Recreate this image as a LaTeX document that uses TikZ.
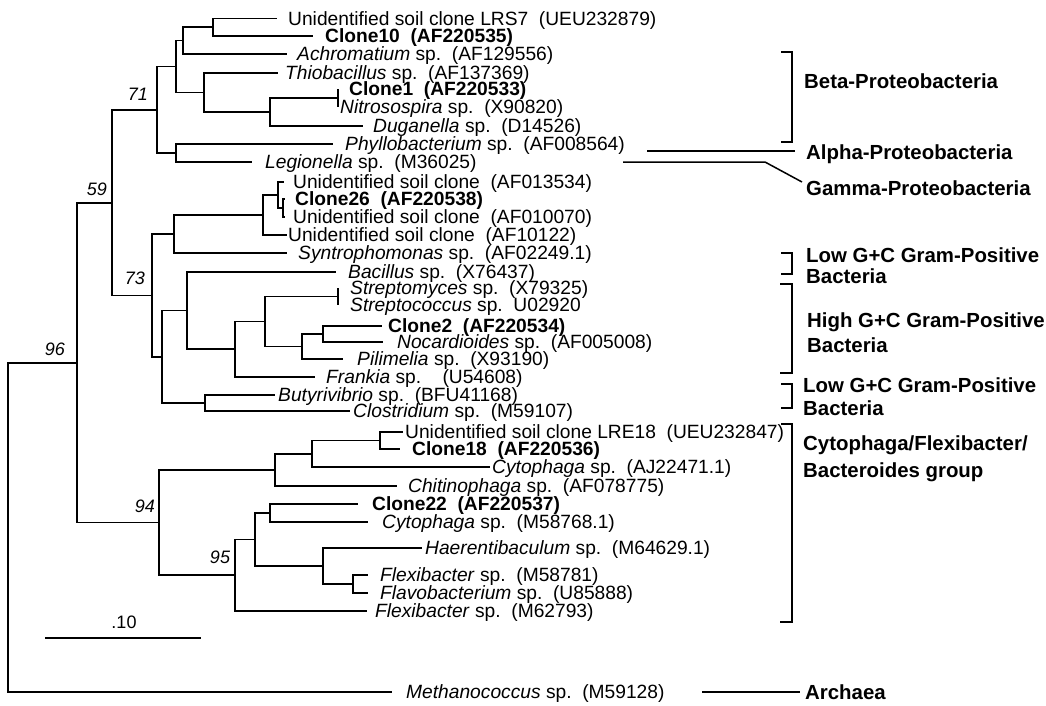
\documentclass[tikz,border=0pt]{standalone}
\usepackage{fontspec}
\setmainfont{Liberation Sans}
\newcommand\gap{\hspace{0.556em}}
\tikzset{
  tree/.style={line width=1.5pt, line join=miter},
  leaf/.style={anchor=base west, inner sep=0pt, yshift=-6.9pt, font=\fontsize{19.2}{20}\selectfont},
  bleaf/.style={leaf, font=\fontsize{19.2}{20}\selectfont\bfseries},
  grp/.style={anchor=base west, inner sep=0pt, yshift=-7.3pt, font=\fontsize{20.4}{21}\selectfont\bfseries},
  boot/.style={inner sep=0pt, font=\fontsize{18}{18}\selectfont\itshape},
}
\begin{document}
\begin{tikzpicture}[x=1pt,y=-1pt]
\useasboundingbox (0,0) rectangle (1046,705);
% internal nodes
\coordinate (A) at (213,27);
\coordinate (B) at (183,40.5);
\coordinate (F) at (338,98);
\coordinate (E) at (270,112);
\coordinate (D) at (204,92.5);
\coordinate (C) at (176,66.5);
\coordinate (H) at (176,153);
\coordinate (G) at (157,110);
\coordinate (O) at (283,208);
\coordinate (N) at (278,195);
\coordinate (M) at (263,215);
\coordinate (L) at (174,234);
\coordinate (Q) at (338,296.5);
\coordinate (T) at (323,334);
\coordinate (S) at (302,346.5);
\coordinate (R) at (265,321.5);
\coordinate (U) at (235,349);
\coordinate (P) at (187,310.5);
\coordinate (W) at (205,403);
\coordinate (V) at (162,357);
\coordinate (K) at (152,295.5);
\coordinate (I) at (112,203);
\coordinate (AB) at (380,440.5);
\coordinate (AA) at (312,453.8);
\coordinate (Z) at (275,470);
\coordinate (AE) at (270,513);
\coordinate (AG) at (353,584);
\coordinate (AF) at (323,566);
\coordinate (AD) at (255,539.5);
\coordinate (AC) at (235,575);
\coordinate (Y) at (159,522.5);
\coordinate (X) at (77,363);
\coordinate (RT) at (8,527.5);
% leaf ends
\coordinate (e1) at (277,18.5);
\coordinate (e2) at (313,36);
\coordinate (e3) at (287,54);
\coordinate (e4) at (278,73);
\coordinate (e5) at (338,89);
\coordinate (e6) at (338,107);
\coordinate (e7) at (363,126);
\coordinate (e8) at (333,144);
\coordinate (e9) at (252,162);
\coordinate (e10) at (284,182);
\coordinate (e11) at (285,199);
\coordinate (e12) at (285,217);
\coordinate (e13) at (287,235);
\coordinate (e14) at (287,253);
\coordinate (e15) at (336,272);
\coordinate (e16) at (338,288);
\coordinate (e17) at (338,305);
\coordinate (e18) at (382,326);
\coordinate (e19) at (383,342);
\coordinate (e20) at (343,359);
\coordinate (e21) at (315,377);
\coordinate (e22) at (275,395);
\coordinate (e23) at (350,411);
\coordinate (e24) at (403,432);
\coordinate (e25) at (400,449);
\coordinate (e26) at (490,467);
\coordinate (e27) at (397,486);
\coordinate (e28) at (358,504);
\coordinate (e29) at (368,522);
\coordinate (e30) at (422,548);
\coordinate (e31) at (368,575);
\coordinate (e32) at (368,593);
\coordinate (e33) at (367,611);
\coordinate (e34) at (392,692);
% tree
\draw[tree] (A) |- (e1) (A) |- (e2) (B) |- (A) (B) |- (e3)
  (C) |- (B) (C) |- (D) (D) |- (e4) (D) |- (E) (E) |- (F) (E) |- (e7)
  (F) |- (e5) (F) |- (e6) (G) |- (C) (G) |- (H) (H) |- (e8) (H) |- (e9)
  (I) |- (G) (I) |- (K) (K) |- (L) (K) |- (V) (L) |- (M) (L) |- (e14)
  (M) |- (N) (M) |- (e13) (N) |- (e10) (N) |- (O) (O) |- (e11) (O) |- (e12)
  (V) |- (P) (V) |- (W) (P) |- (e15) (P) |- (U) (U) |- (R) (U) |- (e21)
  (R) |- (Q) (R) |- (S) (Q) |- (e16) (Q) |- (e17) (S) |- (T) (S) |- (e20)
  (T) |- (e18) (T) |- (e19) (W) |- (e22) (W) |- (e23)
  (X) |- (I) (X) |- (Y) (Y) |- (Z) (Y) |- (AC) (Z) |- (AA) (Z) |- (e27)
  (AA) |- (AB) (AA) |- (e26) (AB) |- (e24) (AB) |- (e25)
  (AC) |- (AD) (AC) |- (e33) (AD) |- (AE) (AD) |- (AF)
  (AE) |- (e28) (AE) |- (e29) (AF) |- (e30) (AF) |- (AG)
  (AG) |- (e31) (AG) |- (e32) (RT) |- (X) (RT) |- (e34);
% leaf labels
\node[leaf] (l1) at (288,18.5) {Unidentified soil clone LRS7\gap(UEU232879)};
\node[bleaf] (l2) at (325,36) {Clone10\gap(AF220535)};
\node[leaf] (l3) at (297,54) {\textit{Achromatium} sp.\gap(AF129556)};
\node[leaf] (l4) at (285,73) {\textit{Thiobacillus} sp.\gap(AF137369)};
\node[bleaf] (l5) at (349,89) {Clone1\gap(AF220533)};
\node[leaf] (l6) at (340,107) {\textit{Nitrosospira} sp.\gap(X90820)};
\node[leaf] (l7) at (373,126) {\textit{Duganella} sp.\gap(D14526)};
\node[leaf] (l8) at (345,144) {\textit{Phyllobacterium} sp.\gap(AF008564)};
\node[leaf] (l9) at (265,162) {\textit{Legionella} sp.\gap(M36025)};
\node[leaf] (l10) at (293,182) {Unidentified soil clone\gap(AF013534)};
\node[bleaf] (l11) at (295,199) {Clone26\gap(AF220538)};
\node[leaf] (l12) at (293,217) {Unidentified soil clone\gap(AF010070)};
\node[leaf] (l13) at (288,235) {Unidentified soil clone\gap(AF10122)};
\node[leaf] (l14) at (298,253) {\textit{Syntrophomonas} sp.\gap(AF02249.1)};
\node[leaf] (l15) at (348,272) {\textit{Bacillus} sp.\gap(X76437)};
\node[leaf] (l16) at (350,288) {\textit{Streptomyces} sp.\gap(X79325)};
\node[leaf] (l17) at (350,305) {\textit{Streptococcus} sp.\gap U02920};
\node[bleaf] (l18) at (388,326) {Clone2\gap(AF220534)};
\node[leaf] (l19) at (397,342) {\textit{Nocardioides} sp.\gap(AF005008)};
\node[leaf] (l20) at (357,359) {\textit{Pilimelia} sp.\gap(X93190)};
\node[leaf] (l21) at (326,377) {\textit{Frankia} sp.\gap\gap(U54608)};
\node[leaf] (l22) at (278,395) {\textit{Butyrivibrio} sp.\gap(BFU41168)};
\node[leaf] (l23) at (353,411) {\textit{Clostridium} sp.\gap(M59107)};
\node[leaf] (l24) at (405,432) {Unidentified soil clone LRE18\gap(UEU232847)};
\node[bleaf] (l25) at (412,449) {Clone18\gap(AF220536)};
\node[leaf] (l26) at (492,467) {\textit{Cytophaga} sp.\gap(AJ22471.1)};
\node[leaf] (l27) at (408,486) {\textit{Chitinophaga} sp.\gap(AF078775)};
\node[bleaf] (l28) at (372,504) {Clone22\gap(AF220537)};
\node[leaf] (l29) at (382,522) {\textit{Cytophaga} sp.\gap(M58768.1)};
\node[leaf] (l30) at (425,548) {\textit{Haerentibaculum} sp.\gap(M64629.1)};
\node[leaf] (l31) at (380,575) {\textit{Flexibacter} sp.\gap(M58781)};
\node[leaf] (l32) at (380,593) {\textit{Flavobacterium} sp.\gap(U85888)};
\node[leaf] (l33) at (375,611) {\textit{Flexibacter} sp.\gap(M62793)};
\node[leaf] (l34) at (406,692) {\textit{Methanococcus} sp.\gap(M59128)};
% bootstrap values
\node[boot] (b71) at (138,94) {71};
\node[boot] (b59) at (97,189) {59};
\node[boot] (b73) at (135,278) {73};
\node[boot] (b96) at (55,349) {96};
\node[boot] (b94) at (145,506) {94};
\node[boot] (b95) at (220,557) {95};
% scale bar
\coordinate (sb1) at (45,638);
\coordinate (sb2) at (201,638);
\draw[tree] (sb1) -- (sb2);
\node[inner sep=0pt, font=\fontsize{18}{18}\selectfont] (sbl) at (124,622) {.10};
% group brackets
\coordinate (bt1) at (781,52); \coordinate (bt2) at (792,52);
\coordinate (bt3) at (792,142); \coordinate (bt4) at (781,142);
\draw[tree] (bt1) -- (bt2) -- (bt3) -- (bt4);
\coordinate (al1) at (647,151); \coordinate (al2) at (795,151);
\draw[tree] (al1) -- (al2);
\coordinate (ga1) at (623,162); \coordinate (ga2) at (765,162); \coordinate (ga3) at (802,182);
\draw[tree] (ga1) -- (ga2) -- (ga3);
\coordinate (lo1) at (781,253); \coordinate (lo2) at (792,253);
\coordinate (lo3) at (792,274); \coordinate (lo4) at (781,274);
\draw[tree] (lo1) -- (lo2) -- (lo3) -- (lo4);
\coordinate (hi1) at (780,284); \coordinate (hi2) at (792,284);
\coordinate (hi3) at (792,373); \coordinate (hi4) at (780,373);
\draw[tree] (hi1) -- (hi2) -- (hi3) -- (hi4);
\coordinate (lw1) at (781,384); \coordinate (lw2) at (792,384);
\coordinate (lw3) at (792,408); \coordinate (lw4) at (781,408);
\draw[tree] (lw1) -- (lw2) -- (lw3) -- (lw4);
\coordinate (cy1) at (781,424); \coordinate (cy2) at (792,424);
\coordinate (cy3) at (792,622); \coordinate (cy4) at (780,622);
\draw[tree] (cy1) -- (cy2) -- (cy3) -- (cy4);
\coordinate (ar1) at (702,692); \coordinate (ar2) at (800,692);
\draw[tree] (ar1) -- (ar2);
% group labels
\node[grp] (gBeta) at (804,81) {Beta-Proteobacteria};
\node[grp] (gAlpha) at (806,152) {Alpha-Proteobacteria};
\node[grp] (gGamma) at (806,188) {Gamma-Proteobacteria};
\node[grp] (gLow1a) at (806,255) {Low G+C Gram-Positive};
\node[grp] (gLow1b) at (806,276) {Bacteria};
\node[grp] (gHigha) at (807,320) {High G+C Gram-Positive};
\node[grp] (gHighb) at (807,345) {Bacteria};
\node[grp] (gLow2a) at (803,385) {Low G+C Gram-Positive};
\node[grp] (gLow2b) at (803,408) {Bacteria};
\node[grp] (gCytoa) at (803,443) {Cytophaga/Flexibacter/};
\node[grp] (gCytob) at (803,470) {Bacteroides group};
\node[grp] (gArch) at (805,692) {Archaea};
\end{tikzpicture}
\end{document}
